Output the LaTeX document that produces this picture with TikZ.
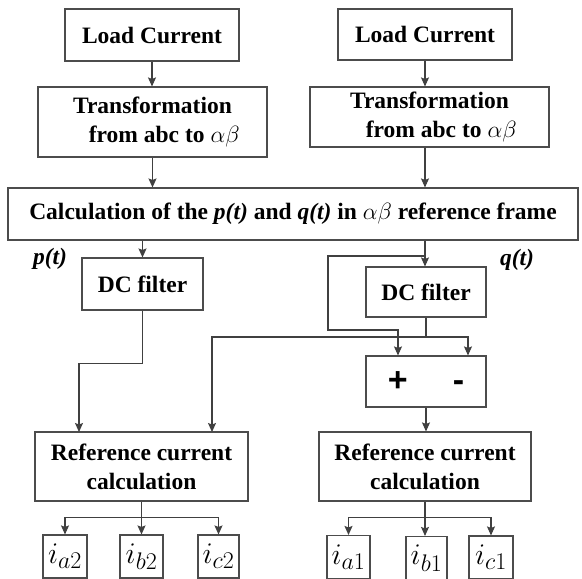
\RequirePackage{fix-cm}
\documentclass[tikz,border=0pt]{standalone}
\usepackage{fontspec}
\setmainfont{Liberation Serif}
\setsansfont{Liberation Sans}
\usepackage{tikz}
\usetikzlibrary{arrows.meta}
\DeclareMathSizes{30}{30}{24}{20}
\tikzstyle{block}=[rectangle,draw=black!70,line width=1.1pt,align=center,
			  inner sep=0pt,font=\bfseries\fontsize{23.5}{29}\selectfont]
\tikzstyle{outbox}=[rectangle,draw=black!70,line width=1.1pt,inner sep=0pt,
			  minimum height=43pt,font=\fontsize{30}{32}\selectfont]
\tikzstyle{line}=[draw=black!75,line width=1.1pt]
\tikzstyle{sig}=[font=\bfseries\itshape\fontsize{23.5}{29}\selectfont]

\begin{document}
\begin{tikzpicture}[x=1pt,y=-1pt,>={Stealth[length=9pt,width=8pt,inset=1.5pt]}]

	\useasboundingbox (0,0) rectangle (582,579);

	\node[block,minimum width=174pt,minimum height=52pt] (lc1) at (152,35) {Load Current};
	\node[block,minimum width=229pt,minimum height=70pt] (tr1) at (152.5,122) {Transformation\\ \quad from abc to $\alpha\beta$};
	\node[block,minimum width=174pt,minimum height=51pt] (lc2) at (425,34.5) {Load Current};
	\node[block,minimum width=239pt,minimum height=60pt] (tr2) at (429.5,117) {Transformation\\ \quad from abc to $\alpha\beta$};
	\node[block,minimum width=570pt,minimum height=52pt] (calc) at (293,214) {Calculation of the \textit{p(t)} and \textit{q(t)} in $\alpha\beta$ reference frame};
	\node[block,minimum width=121pt,minimum height=52pt] (dc1) at (142.5,284) {DC filter};
	\node[block,minimum width=120pt,minimum height=50pt] (dc2) at (426,292) {DC filter};
	\node[block,minimum width=120pt,minimum height=51pt,font=\sffamily\bfseries\fontsize{34}{34}\selectfont] (pm) at (426,381.5) {+\hspace{45pt}-};
	\node[block,minimum width=213pt,minimum height=69pt] (ref1) at (141.5,466.5) {Reference current\\calculation};
	\node[block,minimum width=212pt,minimum height=69pt] (ref2) at (425,466.5) {Reference current\\calculation};

	\node[outbox,minimum width=44pt] (ia2) at (65,556.5) {$i_{a2}$};
	\node[outbox,minimum width=43pt] (ib2) at (141.5,556.5) {$i_{b2}$};
	\node[outbox,minimum width=41pt] (ic2) at (218.5,556.5) {$i_{c2}$};
	\node[outbox,minimum width=43pt] (ia1) at (348.5,557) {$i_{a1}$};
	\node[outbox,minimum width=41pt] (ib1) at (426.5,558) {$i_{b1}$};
	\node[outbox,minimum width=44pt] (ic1) at (491,557.5) {$i_{c1}$};

	\node[sig] (plab) at (50,259) {p(t)};
	\node[sig] (qlab) at (517,260) {q(t)};

	\coordinate (qsplit) at (425,256);
	\coordinate (qloop) at (328,330);
	\coordinate (dcj) at (426,337);
	\coordinate (plusin) at ([xshift=-28pt]pm.north);
	\coordinate (minusin) at ([xshift=42pt]pm.north);
	\coordinate (refin1) at (79,432);
	\coordinate (refin2) at (212,432);

	\draw[line,->] (lc1.south) -- (lc1.south |- tr1.north);
	\draw[line,->] (tr1.south) -- (tr1.south |- calc.north);
	\draw[line,->] (lc2.south) -- (lc2.south |- tr2.north);
	\draw[line,->] (tr2.south -| lc2.south) -- (lc2.south |- calc.north);
	\draw[line,->] (dc1.north |- calc.south) -- (dc1.north);
	\draw[line,->] (qsplit |- calc.south) -- (qsplit |- dc2.north);
	\draw[line,->] (qsplit) -| (qloop) -| (plusin);
	\draw[line] (dc2.south) -- (dcj);
	\draw[line,->] (dcj) -| (minusin);
	\draw[line,->] (dcj) -| (refin2);
	\draw[line,->] (dc1.south) -- ++(0,53) -| (refin1);
	\draw[line,->] (pm.south) -- (pm.south |- ref2.north);

	\draw[line] (ref1.south) -- ++(0,16) coordinate (rj1);
	\draw[line,->] (rj1) -| (ia2.north);
	\draw[line,->] (rj1) -- (ib2.north);
	\draw[line,->] (rj1) -| (ic2.north);
	\draw[line] (ref2.south) -- ++(0,16) coordinate (rj2);
	\draw[line,->] (rj2) -| (ia1.north);
	\draw[line,->] (rj2) -- (rj2 |- ib1.north);
	\draw[line,->] (rj2) -| (ic1.north);

\end{tikzpicture}
\end{document}
